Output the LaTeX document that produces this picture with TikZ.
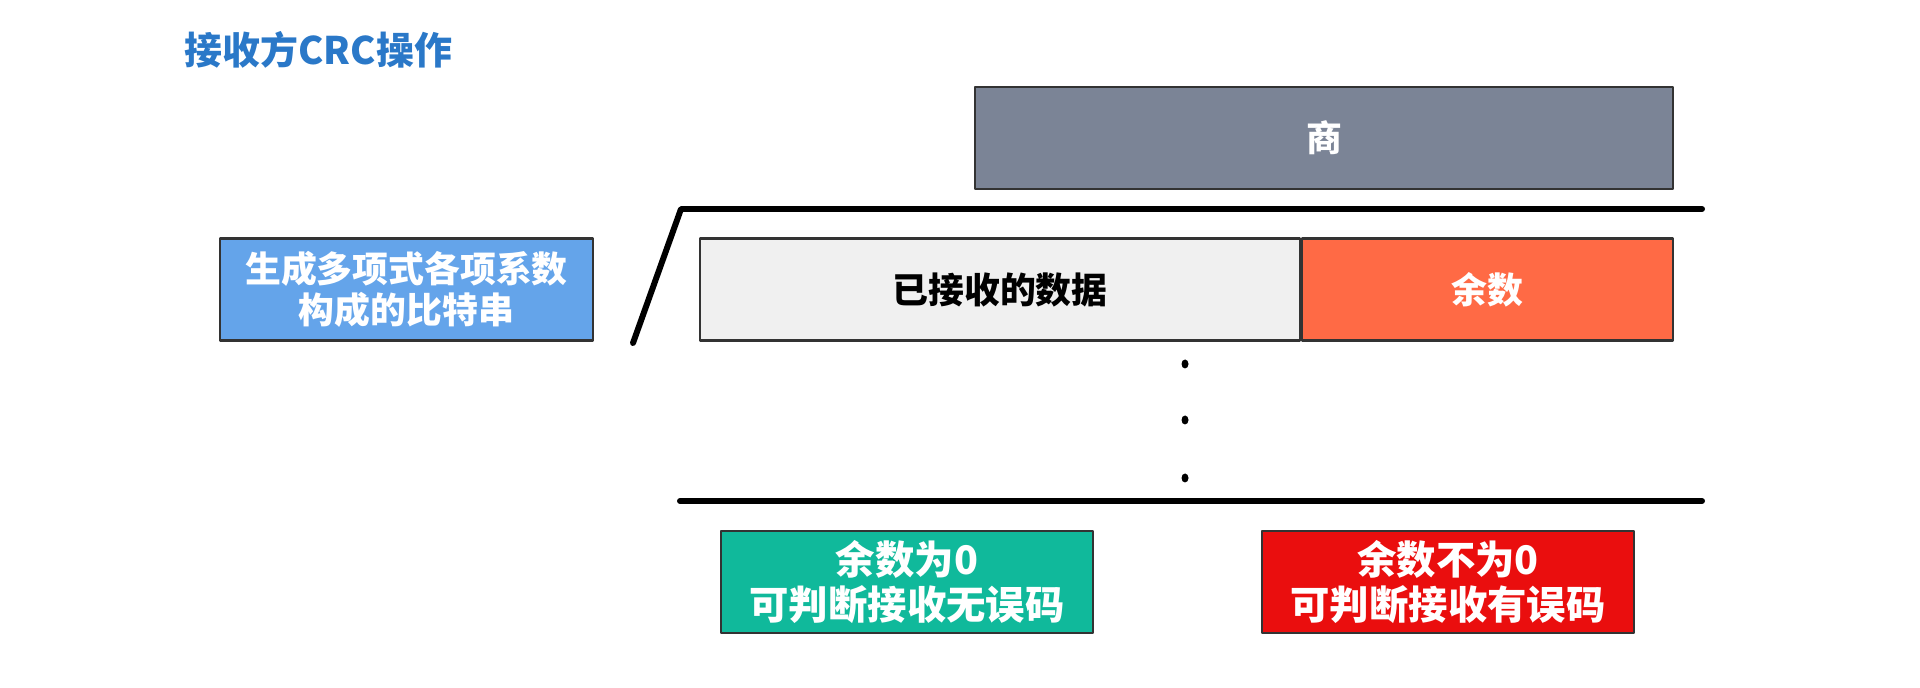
\documentclass[tikz,border=0pt]{standalone}
\usepackage{fontspec}
\setmainfont{Noto Sans CJK SC}
\usepackage{xcolor}
\usetikzlibrary{positioning}

\definecolor{titleblue}{HTML}{2A78C8}
\definecolor{quotgray}{HTML}{7B8496}
\definecolor{polyblue}{HTML}{64A4EA}
\definecolor{datagray}{HTML}{F0F0F0}
\definecolor{remorange}{HTML}{FF6A45}
\definecolor{okgreen}{HTML}{10B99B}
\definecolor{errred}{HTML}{EA0E0E}

\begin{document}
\begin{tikzpicture}[line join=round,
  box/.style={draw=black!80, line width=0.6pt, minimum height=1.02cm, inner sep=0pt,
    text=white, align=center, font=\bfseries\fontsize{10.2}{11.6}\selectfont},
  bar/.style={line width=1.7pt, line cap=round}]
  \useasboundingbox (0,0) rectangle (19.2,-6.88);
  \coordinate (S0) at (6.33,-3.43);
  \coordinate (T0) at (6.81,-2.09);
  \coordinate (T1) at (17.02,-2.09);
  \coordinate (B0) at (6.80,-5.01);
  \coordinate (B1) at (17.02,-5.01);
  \node[anchor=west,text=titleblue,inner sep=0pt,font=\bfseries\fontsize{10.8}{12}\selectfont] (title) at (1.84,-0.50) {接收方CRC操作};
  \node[box,fill=quotgray,minimum width=6.98cm] (quot) at (13.24,-1.38) {商};
  \node[box,fill=polyblue,minimum width=3.73cm] (poly) at (4.065,-2.895) {生成多项式各项系数\\构成的比特串};
  \node[box,fill=datagray,text=black,minimum width=6.00cm] (data) at (10.00,-2.895) {已接收的数据};
  \node[box,fill=remorange,minimum width=3.71cm,right=0pt of data] (rem) {余数};
  \draw[bar] (S0) -- (T0) -- (T1);
  \foreach \y in {-3.64,-4.20,-4.78}
    \fill (11.85,\y) ellipse (0.035 and 0.045);
  \draw[bar] (B0) -- (B1);
  \node[box,fill=okgreen,minimum width=3.72cm,font=\bfseries\fontsize{11.2}{12.6}\selectfont] (ok) at (9.07,-5.82) {余数为0\\可判断接收无误码};
  \node[box,fill=errred,minimum width=3.72cm,font=\bfseries\fontsize{11.2}{12.6}\selectfont] (err) at (14.48,-5.82) {余数不为0\\可判断接收有误码};
\end{tikzpicture}
\end{document}
